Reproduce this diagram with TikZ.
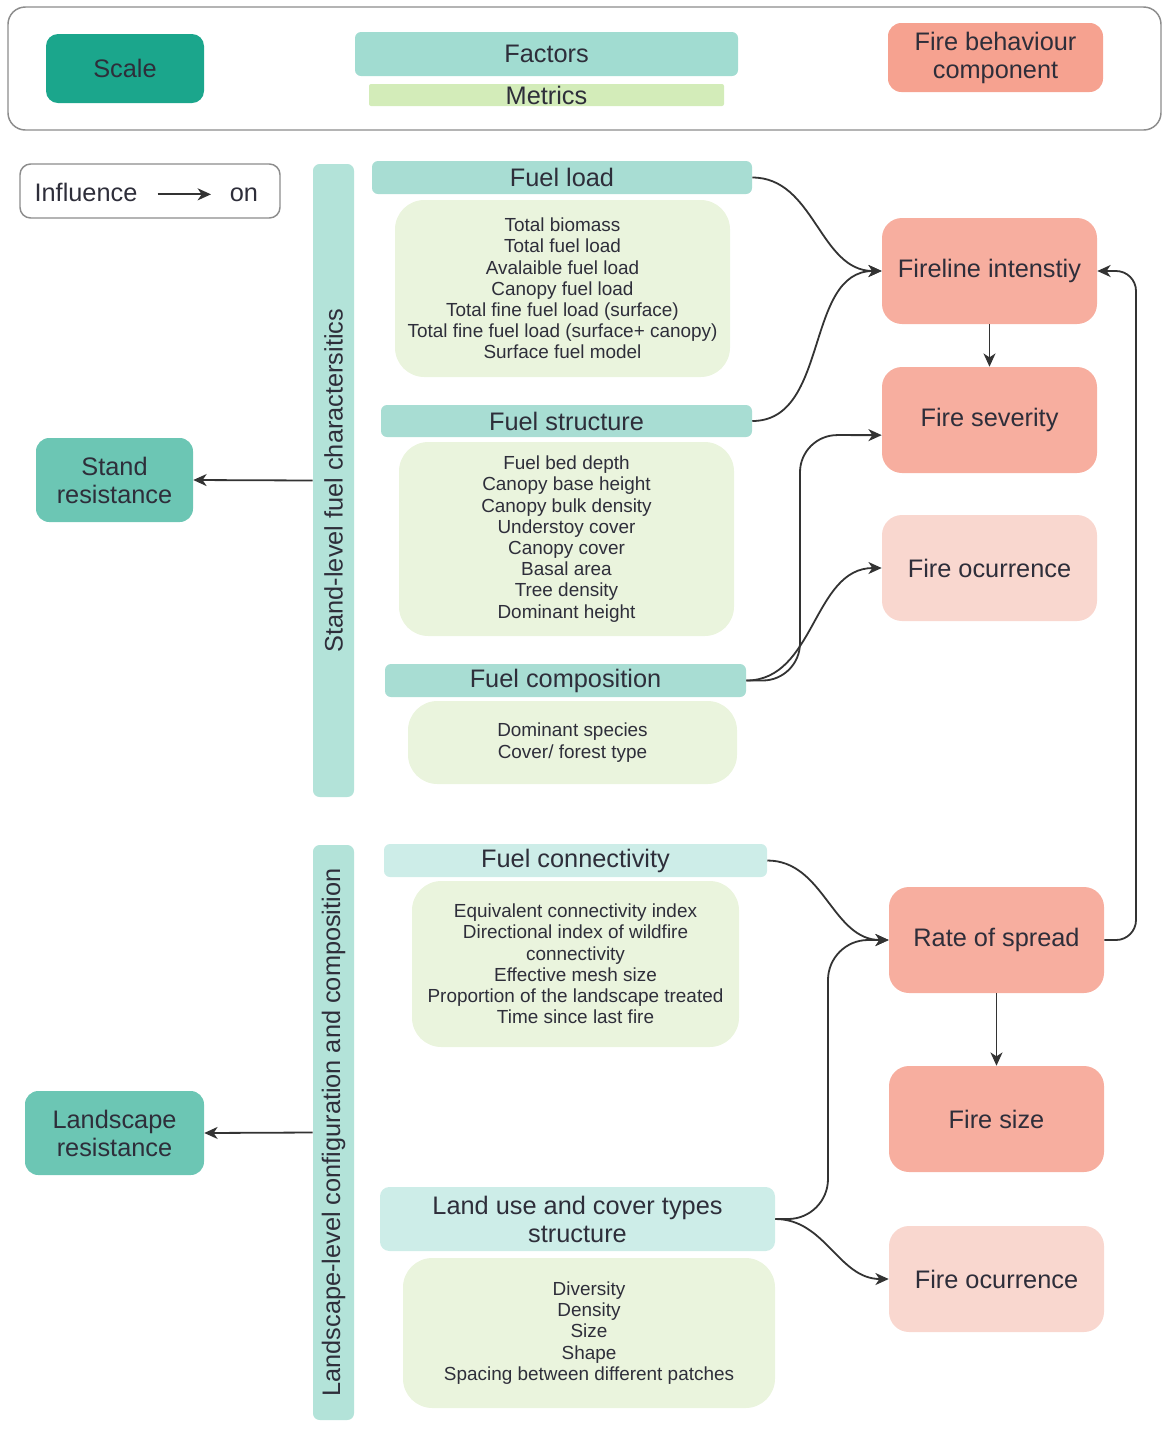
\documentclass[tikz,border=0pt]{standalone}
\usepackage{fontspec}
\setmainfont{Liberation Sans}
\usetikzlibrary{arrows.meta}
\definecolor{ink}{HTML}{2E2E3A}
\definecolor{wire}{HTML}{333333}
\definecolor{scaleteal}{HTML}{1BA68C}
\definecolor{resteal}{HTML}{6CC6B4}
\definecolor{factor}{HTML}{A8DDD3}
\definecolor{factorlgd}{HTML}{A1DCD1}
\definecolor{factorlite}{HTML}{CDEDE8}
\definecolor{barteal}{HTML}{B3E3D9}
\definecolor{metric}{HTML}{EAF4DD}
\definecolor{metriclgd}{HTML}{D3ECB9}
\definecolor{fire}{HTML}{F7AE9F}
\definecolor{firelgd}{HTML}{F6A290}
\definecolor{firelite}{HTML}{F9D7CF}
\newcommand{\bigtxt}{\fontsize{19}{21}\selectfont}
\newcommand{\smalltxt}{\fontsize{14.2}{15.9}\selectfont}
\begin{document}
\begin{tikzpicture}[x=0.75pt,y=-0.75pt,
    sz/.style 2 args={minimum width=#1*0.75pt,minimum height=#2*0.75pt},
    box/.style={inner sep=0pt,align=center,text=ink,font=\bigtxt},
    factorbox/.style={box,fill=factor,rounded corners=4.5pt},
    metricbox/.style={box,fill=metric,rounded corners=22pt,font=\smalltxt},
    firebox/.style={box,fill=fire,rounded corners=15pt},
    resbox/.style={box,fill=resteal,rounded corners=10pt},
    barbox/.style={box,fill=barteal,rounded corners=5pt,rotate=90},
    arr/.style={-{Stealth[length=10pt,width=9pt,inset=3pt]},draw=wire,line width=1.35pt}]
  \useasboundingbox (0,0) rectangle (1162,1440);

  % legend
  \node[box,sz={1153}{123},draw=black!45,line width=1.1pt,rounded corners=13pt] (legend) at (584.5,68.5) {};
  \node[box,sz={158}{69},fill=scaleteal,rounded corners=9pt] (scale) at (125,68.5) {Scale};
  \node[factorbox,sz={383}{44},fill=factorlgd] (factors) at (546.5,54) {Factors};
  \node[box,sz={355}{22},fill=metriclgd,rounded corners=1.5pt] (metrics) at (546.5,95) {Metrics};
  \node[box,sz={215}{69},fill=firelgd,rounded corners=10pt] (fbc) at (995.5,57.5) {Fire behaviour\\component};

  \node[box,sz={260}{54},draw=black!45,line width=1.1pt,rounded corners=8pt] (influence) at (150,191) {};
  \node[box,anchor=base] (inftxt) at (86,201) {Influence};
  \node[box,anchor=base] (ontxt) at (244,201) {on};
  \draw[arr,shorten <=15pt,shorten >=14pt] ([yshift=5pt]inftxt.base east) -- ([yshift=5pt]ontxt.base west);

  % scales
  \node[barbox,sz={633}{41}] (standbar) at (333.5,480.5) {Stand-level fuel charactersitics};
  \node[barbox,sz={575}{41}] (landbar) at (333.5,1132.5) {Landscape-level configuration and composition};
  \node[resbox,sz={157}{84}] (standres) at (114.5,480) {Stand\\resistance};
  \node[resbox,sz={179}{84}] (landres) at (114.5,1133) {Landscape\\resistance};

  % stand-level factors
  \node[factorbox,sz={380}{33}] (load) at (562,177.5) {Fuel load};
  \node[metricbox,sz={335}{177}] (loadm) at (562.5,288.5) {Total biomass\\Total fuel load\\Avalaible fuel load\\Canopy fuel load\\Total fine fuel load (surface)\\Total fine fuel load (surface+ canopy)\\Surface fuel model};
  \node[factorbox,sz={371}{32}] (struct) at (566.5,421) {Fuel structure};
  \node[metricbox,sz={335}{194}] (structm) at (566.5,539) {Fuel bed depth\\Canopy base height\\Canopy bulk density\\Understoy cover\\Canopy cover\\Basal area\\Tree density\\Dominant height};
  \node[factorbox,sz={361}{33}] (comp) at (565.5,680.5) {Fuel composition};
  \node[metricbox,sz={329}{83}] (compm) at (572.5,742.5) {Dominant species\\Cover/ forest type};

  % landscape-level factors
  \node[factorbox,sz={383}{33},fill=factorlite] (conn) at (575.5,860.5) {Fuel connectivity};
  \node[metricbox,sz={327}{166}] (connm) at (575.5,964) {Equivalent connectivity index\\Directional index of wildfire\\connectivity\\Effective mesh size\\Proportion of the landscape treated\\Time since last fire};
  \node[factorbox,sz={395}{64},fill=factorlite,rounded corners=7pt] (landuse) at (577.5,1219) {Land use and cover types\\structure};
  \node[metricbox,sz={372}{150}] (landm) at (589,1333) {Diversity\\Density\\Size\\Shape\\Spacing between different patches};

  % fire behaviour components
  \node[firebox,sz={215}{106}] (intensity) at (989.5,271) {Fireline intenstiy};
  \node[firebox,sz={215}{106}] (severity) at (989.5,420) {Fire severity};
  \node[firebox,sz={215}{106},fill=firelite] (occurA) at (989.5,568) {Fire ocurrence};
  \node[firebox,sz={215}{106}] (spread) at (996.5,940) {Rate of spread};
  \node[firebox,sz={215}{106}] (size) at (996.5,1119) {Fire size};
  \node[firebox,sz={215}{106},fill=firelite] (occurB) at (996.5,1279) {Fire ocurrence};

  % influences
  \draw[arr] (standbar.north) -- (standres.east);
  \draw[arr] (landbar.north) -- (landres.east);
  \draw[arr] (load.east) to[out=0,in=180] (intensity.west);
  \draw[arr] (struct.east) to[out=0,in=180] (intensity.west);
  \draw[arr,rounded corners=28pt] (comp.east) -- (800,680.5) -- (800,435) -- (severity.188);
  \draw[arr] (comp.east) to[out=0,in=180] (occurA.west);
  \draw[arr] (intensity.south) -- (severity.north);
  \draw[arr] (conn.east) to[out=0,in=180] (spread.west);
  \draw[arr,rounded corners=30pt] (landuse.east) -- (828,1219) -- (828,940) -- (spread.west);
  \draw[arr] (landuse.east) to[out=0,in=180] (occurB.west);
  \draw[arr] (spread.south) -- (size.north);
  \draw[arr,rounded corners=15pt] (spread.east) -- (1136,940) -- (1136,271) -- (intensity.east);
\end{tikzpicture}
\end{document}
